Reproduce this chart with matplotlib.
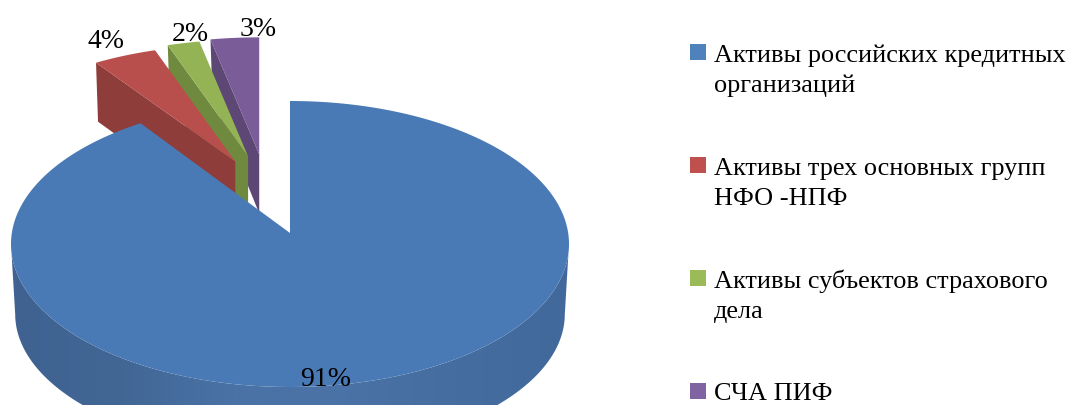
import numpy as np
import matplotlib
matplotlib.use('Agg')
import matplotlib.pyplot as plt
from matplotlib.colors import LinearSegmentedColormap
from matplotlib.patches import Polygon, Rectangle

plt.rcParams['font.family'] = ['Liberation Serif', 'DejaVu Serif']

categories = ['Активы российских кредитных\nорганизаций',
              'Активы трех основных групп\nНФО -НПФ',
              'Активы субъектов страхового\nдела',
              'СЧА ПИФ']
values = [91, 4, 2, 3]
pct_labels = ['91%', '4%', '2%', '3%']

top_colors = ['#4a7ab5', '#b84f4c', '#94b355', '#7a5c99']
side_colors = ['#44699c', '#8f3d3b', '#6f8a3f', '#5d4775']
legend_colors = ['#4f81bd', '#c0504d', '#9bbb59', '#8064a2']

# pie geometry in image pixels
cx, cy = 290, 245
apex_y = 234
rx, ry = 279, 143
depth = 70
ex_rx, ex_ry = 260, 117
ex_depth = 59

fracs = np.array(values) / sum(values)
edges = np.concatenate([[0], np.cumsum(fracs)]) * 2 * np.pi

fig = plt.figure(figsize=(10.82, 4.06), dpi=100)
ax = fig.add_axes([0, 0, 1, 1])
ax.axis('off')


def draw_exploded(i, z):
    t0, t1 = edges[i], edges[i + 1]
    mid = (t0 + t1) / 2
    ax0 = cx + 72 * np.sin(mid) - 24
    ay0 = apex_y - 79 * np.cos(mid)
    th = np.linspace(t0, t1, 30)
    xs = ax0 + ex_rx * np.sin(th)
    ys = ay0 - ex_ry * np.cos(th)
    # cut face, the other faces look away from us
    face = [(xs[0], ys[0]), (ax0, ay0), (ax0, ay0 + ex_depth), (xs[0] + 2, ys[0] + ex_depth)]
    ax.add_patch(Polygon(face, closed=True, fc=side_colors[i], ec='none', zorder=z))
    top = [(ax0, ay0)] + list(zip(xs, ys))
    ax.add_patch(Polygon(top, closed=True, fc=top_colors[i], ec='none', zorder=z + 0.1))


for i, z in [(3, 1), (2, 2), (1, 3)]:
    draw_exploded(i, z)

# blue outer wall, front half of the ellipse, shaded left to right
th = np.linspace(np.pi / 2, 3 * np.pi / 2, 200)
upper = list(zip(cx + rx * np.sin(th), cy - ry * np.cos(th)))
lower = list(zip(cx + 0.985 * rx * np.sin(th[::-1]), cy + depth - 0.97 * ry * np.cos(th[::-1])))
wall = Polygon(upper + lower, closed=True, fc='none', ec='none', zorder=4)
ax.add_patch(wall)
wall_cmap = LinearSegmentedColormap.from_list(
    'wall', ['#3f6291', '#426795', '#4a72a6', '#4a72a6', '#456d9f', '#42699b'])
grad = ax.imshow(np.linspace(0, 1, 560).reshape(1, -1), cmap=wall_cmap, aspect='auto',
                 extent=(cx - rx, cx + rx, 406, 200), zorder=4)
grad.set_clip_path(wall)

# blue top face
th = np.linspace(edges[0], edges[1], 300)
top = [(cx, apex_y)] + list(zip(cx + rx * np.sin(th), cy - ry * np.cos(th)))
ax.add_patch(Polygon(top, closed=True, fc=top_colors[0], ec='none', zorder=5))

ax.set_xlim(0, 1082)
ax.set_ylim(406, 0)

label_pos = [(326, 386), (106, 48), (190, 41), (258, 36)]
for s, (x, y) in zip(pct_labels, label_pos):
    ax.text(x, y, s, fontsize=20, ha='center', va='baseline', color='black', zorder=6)

# legend
box_y = [45, 158, 271, 384]
base_y = [62, 175, 288, 400]
for name, col, by, ty in zip(categories, legend_colors, box_y, base_y):
    ax.add_patch(Rectangle((690, by), 16, 16, fc=col, ec='none'))
    for k, line in enumerate(name.split('\n')):
        ax.text(714, ty + k * 30, line, fontsize=18.9, ha='left', va='baseline', color='black')

plt.savefig('out.png', dpi=100)
